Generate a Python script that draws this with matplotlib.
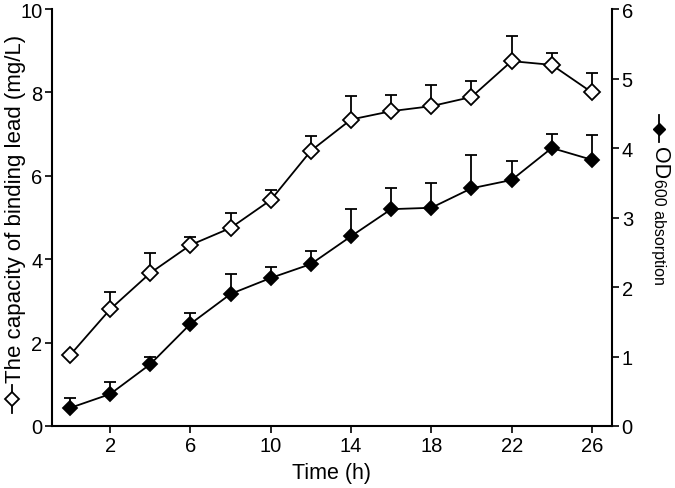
"""Lead binding capacity and OD600 over a 26 h culture (dual y-axis)."""
import matplotlib
matplotlib.use("Agg")
import matplotlib.pyplot as plt
from matplotlib.lines import Line2D

plt.rcParams["font.family"] = ["Liberation Sans", "DejaVu Sans"]

# values
time_h = [0, 2, 4, 6, 8, 10, 12, 14, 16, 18, 20, 22, 24, 26]
capacity = [1.70, 2.80, 3.67, 4.34, 4.75, 5.42, 6.60, 7.35, 7.55, 7.67, 7.89, 8.75, 8.66, 8.00]
capacity_err = [0.00, 0.41, 0.48, 0.19, 0.35, 0.24, 0.35, 0.56, 0.39, 0.51, 0.38, 0.60, 0.28, 0.47]
od600 = [0.26, 0.46, 0.89, 1.47, 1.90, 2.13, 2.33, 2.73, 3.12, 3.14, 3.42, 3.54, 4.00, 3.83]
od600_err = [0.14, 0.17, 0.10, 0.16, 0.29, 0.16, 0.19, 0.39, 0.30, 0.36, 0.48, 0.27, 0.20, 0.36]

x_ticks = [2, 6, 10, 14, 18, 22, 26]
left_ticks = [0, 2, 4, 6, 8, 10]
right_ticks = [0, 1, 2, 3, 4, 5, 6]

W, H = 675, 489
fig = plt.figure(figsize=(W / 100, H / 100), dpi=100)
ax = fig.add_axes([52 / W, 1 - 427 / H, (612 - 52) / W, (427 - 10) / H])
ax2 = ax.twinx()

LW = 1.3


def draw(axis, y, err, face, ms):
    zeros = [0] * len(err)
    axis.errorbar(time_h, y, yerr=[zeros, err], fmt="none", ecolor="black",
                  elinewidth=LW, capsize=4, capthick=LW, zorder=2)
    axis.plot(time_h, y, color="black", linewidth=LW, marker="D", markersize=ms,
              markerfacecolor=face, markeredgecolor="black", markeredgewidth=1.3,
              zorder=3, clip_on=False)


draw(ax, capacity, capacity_err, "white", 8.5)
draw(ax2, od600, od600_err, "black", 7.2)

ax.set_xlim(-0.9, 27.0)
ax.set_ylim(0, 10)
ax2.set_ylim(0, 6)
ax.set_xticks(x_ticks)
ax.set_yticks(left_ticks)
ax2.set_yticks(right_ticks)

for a in (ax, ax2):
    a.spines["top"].set_visible(False)
    for s in ("left", "right", "bottom"):
        a.spines[s].set_linewidth(1.5)
    a.tick_params(direction="out", length=5, width=1.2, labelsize=14.5, pad=2)
ax.spines["right"].set_visible(False)
ax2.spines["left"].set_visible(False)
ax2.spines["bottom"].set_visible(False)

ax.set_xlabel("Time (h)", fontsize=15.5, labelpad=5)


def px(x, y):
    return x / W, 1 - y / H


# left axis label with an open-diamond legend handle
fig.add_artist(Line2D([12 / W, 12 / W], [1 - 386 / H, 1 - 414 / H],
                      color="black", linewidth=LW, transform=fig.transFigure))
fig.add_artist(Line2D([12 / W], [1 - 400 / H], marker="D", markersize=7.5,
                      markerfacecolor="white", markeredgecolor="black",
                      markeredgewidth=1.3, transform=fig.transFigure))
fig.text(*px(21, 383), "The capacity of binding lead (mg/L)", rotation=90,
         rotation_mode="anchor", ha="left", va="baseline", fontsize=16)

# right axis label with a filled-diamond legend handle
fig.add_artist(Line2D([659 / W, 659 / W], [1 - 116 / H, 1 - 143 / H],
                      color="black", linewidth=LW, transform=fig.transFigure))
fig.add_artist(Line2D([659 / W], [1 - 130 / H], marker="D", markersize=6.5,
                      markerfacecolor="black", markeredgecolor="black",
                      transform=fig.transFigure))
fig.text(*px(654, 147), "OD", rotation=-90, rotation_mode="anchor",
         ha="left", va="baseline", fontsize=15.5)
fig.text(*px(654, 179), "600 absorption", rotation=-90, rotation_mode="anchor",
         ha="left", va="baseline", fontsize=11.5)

fig.savefig("out.png", dpi=100)
